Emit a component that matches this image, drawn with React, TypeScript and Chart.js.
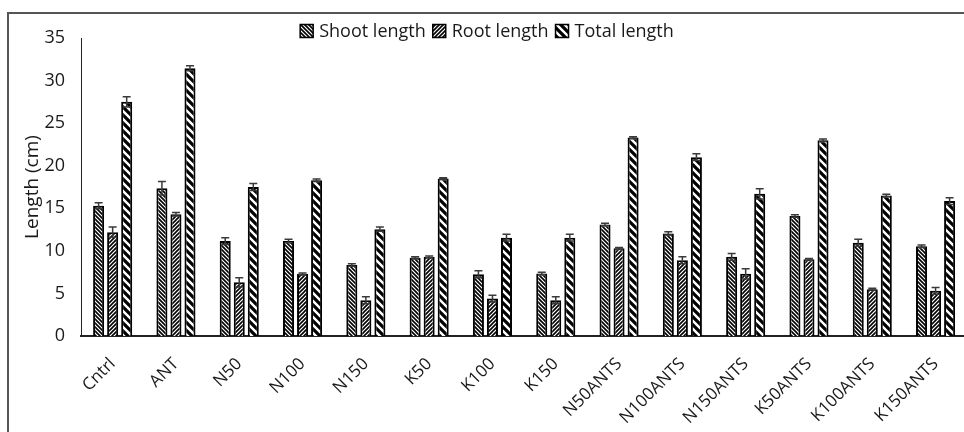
import React, { useEffect, useRef } from "react";
import { Chart, registerables } from "chart.js";

Chart.register(...registerables);

const categories = ["Cntrl", "ANT", "N50", "N100", "N150", "K50", "K100", "K150", "N50ANTS", "N100ANTS", "N150ANTS", "K50ANTS", "K100ANTS", "K150ANTS"];
const shootLength = [15.3, 17.35, 11.15, 11.15, 8.35, 9.2, 7.25, 7.35, 13.1, 12.05, 9.3, 14.1, 10.95, 10.55];
const rootLength = [12.2, 14.3, 6.3, 7.3, 4.2, 9.3, 4.4, 4.2, 10.3, 8.9, 7.3, 9.0, 5.5, 5.3];
const totalLength = [27.5, 31.45, 17.5, 18.3, 12.55, 18.5, 11.55, 11.55, 23.3, 21.0, 16.7, 23.0, 16.5, 15.85];
const shootError = [0.35, 0.8, 0.4, 0.2, 0.15, 0.1, 0.4, 0.15, 0.15, 0.2, 0.4, 0.15, 0.4, 0.15];
const rootError = [0.6, 0.2, 0.55, 0.1, 0.4, 0.1, 0.4, 0.4, 0.1, 0.4, 0.6, 0.1, 0.1, 0.4];
const totalError = [0.6, 0.3, 0.4, 0.15, 0.25, 0.1, 0.4, 0.4, 0.1, 0.4, 0.6, 0.15, 0.15, 0.4];
const seriesLabels = ["Shoot length", "Root length", "Total length"];
const yTicks = [0, 5, 10, 15, 20, 25, 30, 35];

const FONT = "'Open Sans', Lato, sans-serif";
const TEXT = "#1a1a1a";

function makePattern(size: number, lw: number, forward: boolean): CanvasPattern | string {
  const c = document.createElement("canvas");
  c.width = size;
  c.height = size;
  const ctx = c.getContext("2d");
  if (!ctx) return "#000";
  ctx.fillStyle = "#fff";
  ctx.fillRect(0, 0, size, size);
  ctx.strokeStyle = "#000";
  ctx.lineWidth = lw;
  ctx.lineCap = "square";
  const segs = forward
    ? [[-size, size * 2, size * 2, -size], [-size, size, size, -size], [0, size * 2, size * 2, 0]]
    : [[-size, -size, size * 2, size * 2], [-size, 0, size, size * 2], [0, -size, size * 2, size]];
  ctx.beginPath();
  for (const s of segs) {
    ctx.moveTo(s[0], s[1]);
    ctx.lineTo(s[2], s[3]);
  }
  ctx.stroke();
  const p = ctx.createPattern(c, "repeat");
  return p || "#000";
}

export default function App() {
  const ref = useRef<HTMLCanvasElement | null>(null);

  useEffect(() => {
    if (!ref.current) return;
    const shootPat = makePattern(4, 1.6, false);
    const rootPat = makePattern(4, 1.6, true);
    const totalPat = makePattern(8, 3.2, false);
    const errors = [shootError, rootError, totalError];

    const frame = {
      id: "frame",
      afterDraw(chart: any) {
        const ctx = chart.ctx;
        ctx.save();
        ctx.strokeStyle = "#555";
        ctx.lineWidth = 2;
        ctx.beginPath();
        ctx.moveTo(8, 432);
        ctx.lineTo(8, 13);
        ctx.lineTo(chart.width, 13);
        ctx.stroke();
        ctx.restore();
      },
    };

    const errorBars = {
      id: "errorBars",
      afterDatasetsDraw(chart: any) {
        const ctx = chart.ctx;
        const yScale = chart.scales.y;
        ctx.save();
        ctx.strokeStyle = "#3a3a3a";
        ctx.lineWidth = 1.5;
        chart.data.datasets.forEach((ds: any, i: number) => {
          const meta = chart.getDatasetMeta(i);
          meta.data.forEach((bar: any, j: number) => {
            const v = ds.data[j];
            const e = errors[i][j];
            const x = bar.x;
            const yTop = yScale.getPixelForValue(v + e);
            const yBot = yScale.getPixelForValue(v - e);
            ctx.beginPath();
            ctx.moveTo(x, yTop);
            ctx.lineTo(x, yBot);
            ctx.moveTo(x - 4, yTop);
            ctx.lineTo(x + 4, yTop);
            ctx.moveTo(x - 4, yBot);
            ctx.lineTo(x + 4, yBot);
            ctx.stroke();
          });
        });
        ctx.restore();
      },
    };

    const legend = {
      id: "customLegend",
      afterDraw(chart: any) {
        const ctx = chart.ctx;
        ctx.save();
        ctx.font = `18px ${FONT}`;
        ctx.textBaseline = "middle";
        const box = 13;
        const gapText = 6;
        const gapItem = 7;
        const items = chart.data.datasets.map((ds: any) => ({
          label: ds.label,
          fill: ds.backgroundColor,
          w: ctx.measureText(ds.label).width,
        }));
        let total = 0;
        items.forEach((it: any, k: number) => {
          total += box + gapText + it.w + (k < items.length - 1 ? gapItem : 0);
        });
        let x = 487 - total / 2;
        const cy = 31;
        items.forEach((it: any) => {
          ctx.fillStyle = it.fill;
          ctx.fillRect(x, cy - box / 2, box, box);
          ctx.strokeStyle = "#000";
          ctx.lineWidth = 1.5;
          ctx.strokeRect(x, cy - box / 2, box, box);
          ctx.fillStyle = TEXT;
          ctx.fillText(it.label, x + box + gapText, cy + 1);
          x += box + gapText + it.w + gapItem;
        });
        ctx.restore();
      },
    };

    const chart = new Chart(ref.current, {
      type: "bar",
      data: {
        labels: categories,
        datasets: [
          { label: seriesLabels[0], data: shootLength, backgroundColor: shootPat as any, borderColor: "#000", borderWidth: 2 },
          { label: seriesLabels[1], data: rootLength, backgroundColor: rootPat as any, borderColor: "#000", borderWidth: 2 },
          { label: seriesLabels[2], data: totalLength, backgroundColor: totalPat as any, borderColor: "#000", borderWidth: 2 },
        ],
      },
      options: {
        responsive: false,
        animation: false,
        layout: { padding: { top: 38, left: 0, right: 0, bottom: 0 } },
        datasets: { bar: { categoryPercentage: 0.665, barPercentage: 0.786 } },
        plugins: {
          legend: { display: false },
          tooltip: { enabled: false },
        },
        scales: {
          x: {
            grid: { display: false, drawTicks: false },
            border: { display: true, color: "#222", width: 2 },
            ticks: {
              autoSkip: false,
              minRotation: 45,
              maxRotation: 45,
              padding: 18,
              color: TEXT,
              font: { family: FONT, size: 17 },
            },
            afterFit(scale: any) {
              scale.height = 96;
            },
          },
          y: {
            min: 0,
            max: 35,
            grid: { display: false, drawTicks: false },
            border: { display: true, color: "#222", width: 1 },
            afterBuildTicks(scale: any) {
              scale.ticks = yTicks.map((v) => ({ value: v }));
            },
            ticks: {
              padding: 16,
              color: TEXT,
              font: { family: FONT, size: 18 },
            },
            title: {
              display: true,
              text: "Length (cm)",
              color: TEXT,
              font: { family: FONT, size: 19 },
              padding: { top: 21, bottom: 0 },
            },
            afterFit(scale: any) {
              scale.width = 81;
            },
          },
        },
      },
      plugins: [frame, errorBars, legend],
    });
    return () => chart.destroy();
  }, []);

  return (
    <div style={{ position: "absolute", left: 0, top: 0, width: 964, height: 432, overflow: "hidden", background: "#fff" }}>
      <canvas ref={ref} width={968} height={432} style={{ display: "block" }} />
    </div>
  );
}
